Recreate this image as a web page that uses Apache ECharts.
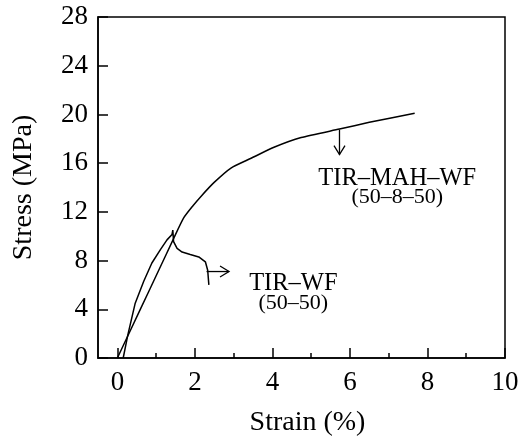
<!DOCTYPE html>
<html>
<head>
<meta charset="utf-8">
<script src="https://cdn.jsdelivr.net/npm/echarts@6/dist/echarts.min.js"></script>
<style>
html,body{margin:0;padding:0;background:#fff;}
#chart{width:519px;height:438px;}
</style>
</head>
<body>
<div id="chart"></div>
<script>
// ---- data ----
const tirWfStrain   = [0.15, 0.27, 0.46, 0.68, 0.89, 1.11, 1.28, 1.41, 1.43, 1.45, 1.54, 1.67, 1.88, 2.10, 2.27, 2.33, 2.36];
const tirWfStress   = [0, 1.9, 4.5, 6.3, 7.8, 8.9, 9.7, 10.15, 10.5, 9.55, 9.0, 8.7, 8.5, 8.3, 7.9, 7.2, 6.0];
const tirMahStrain  = [0, 0.6, 1.0, 1.45, 1.71, 1.95, 2.15, 2.49, 2.93, 3.45, 4.04, 4.74, 5.73, 6.5, 7.67];
const tirMahStress  = [0, 4.05, 6.75, 9.8, 11.5, 12.5, 13.25, 14.4, 15.6, 16.4, 17.3, 18.1, 18.8, 19.35, 20.1];
const xMajorTicks   = [0, 2, 4, 6, 8, 10];
const xMinorTicks   = [1, 3, 5, 7, 9];
const yTicks        = [0, 4, 8, 12, 16, 20, 24, 28];
// annotations (data coordinates)
const arrowStart    = [[5.73, 18.75], [2.30, 7.1]];
const arrowEnd      = [[5.73, 16.7], [2.88, 7.1]];
const labelLine1    = ['TIR–MAH–WF', 'TIR–WF'];
const labelLine2    = ['(50–8–50)', '(50–50)'];
const labelAt       = [[7.22, 13.95], [4.54, 5.3]];

const FONT = 'Liberation Serif';
const zip = (a, b) => a.map((v, i) => [v, b[i]]);

const chart = echarts.init(document.getElementById('chart'), null, {renderer: 'canvas'});
chart.setOption({
  animation: false,
  backgroundColor: '#fff',
  grid: {left: 98, right: 14, top: 17, bottom: 80, containLabel: false, outerBoundsMode: 'none',
         show: true, borderColor: '#000', borderWidth: 1.5, backgroundColor: 'transparent'},
  xAxis: [{
    type: 'value', position: 'bottom', min: -0.5, max: 10,
    name: 'Strain (%)', nameLocation: 'middle', nameGap: 51,
    nameTextStyle: {fontFamily: FONT, fontSize: 28, color: '#000', padding: [0, 0, 0, 12]},
    axisLine: {show: true, onZero: false, lineStyle: {color: '#000', width: 1.5}},
    axisTick: {show: true, inside: true, length: 10, customValues: xMajorTicks, lineStyle: {color: '#000', width: 1.5}},
    axisLabel: {show: true, customValues: xMajorTicks, margin: 11, fontFamily: FONT, fontSize: 27, color: '#000'},
    splitLine: {show: false}
  }, {
    type: 'value', position: 'bottom', min: -0.5, max: 10,
    axisLine: {show: false},
    axisTick: {show: true, inside: true, length: 5, customValues: xMinorTicks, lineStyle: {color: '#000', width: 1.5}},
    axisLabel: {show: false},
    splitLine: {show: false}
  }],
  yAxis: {
    type: 'value', min: 0, max: 28, interval: 4,
    name: 'Stress (MPa)', nameLocation: 'middle', nameGap: 60,
    nameTextStyle: {fontFamily: FONT, fontSize: 28, color: '#000'},
    axisLine: {show: true, onZero: false, lineStyle: {color: '#000', width: 1.5}},
    axisTick: {show: true, inside: true, length: 10, customValues: yTicks, lineStyle: {color: '#000', width: 1.5}},
    axisLabel: {show: true, customValues: yTicks, margin: 10, fontFamily: FONT, fontSize: 27, color: '#000'},
    splitLine: {show: false}
  },
  series: [{
    name: 'TIR-WF (50-50)', type: 'line', xAxisIndex: 0, data: zip(tirWfStrain, tirWfStress),
    showSymbol: false, symbol: 'none', smooth: false,
    lineStyle: {color: '#000', width: 1.5}
  }, {
    name: 'TIR-MAH-WF (50-8-50)', type: 'line', xAxisIndex: 0, data: zip(tirMahStrain, tirMahStress),
    showSymbol: false, symbol: 'none', smooth: 0.2,
    lineStyle: {color: '#000', width: 1.5}
  }, {
    type: 'custom', xAxisIndex: 0, silent: true,
    data: arrowStart.map((s, i) => [s[0], s[1], arrowEnd[i][0], arrowEnd[i][1]]),
    encode: {x: [0, 2], y: [1, 3]},
    renderItem: function (params, api) {
      const p0 = api.coord([api.value(0), api.value(1)]);
      const p1 = api.coord([api.value(2), api.value(3)]);
      const dx = p1[0] - p0[0], dy = p1[1] - p0[1];
      const len = Math.sqrt(dx * dx + dy * dy);
      const ux = dx / len, uy = dy / len;
      const hl = 9, hw = 5.5;
      const b1 = [p1[0] - ux * hl - uy * hw, p1[1] - uy * hl + ux * hw];
      const b2 = [p1[0] - ux * hl + uy * hw, p1[1] - uy * hl - ux * hw];
      return {
        type: 'group',
        children: [
          {type: 'line', shape: {x1: p0[0], y1: p0[1], x2: p1[0], y2: p1[1]}, style: {stroke: '#000', lineWidth: 1.3}},
          {type: 'polyline', shape: {points: [b1, p1, b2]}, style: {stroke: '#000', lineWidth: 1.3, fill: null}}
        ]
      };
    }
  }, {
    type: 'custom', xAxisIndex: 0, silent: true,
    data: labelAt.map((p, i) => [p[0], p[1], i]),
    renderItem: function (params, api) {
      const i = api.value(2);
      const p = api.coord([api.value(0), api.value(1)]);
      return {
        type: 'text', x: p[0], y: p[1],
        style: {
          text: '{a|' + labelLine1[i] + '}\n{b|' + labelLine2[i] + '}',
          align: 'center', verticalAlign: 'middle', fill: '#000',
          rich: {
            a: {fontFamily: FONT, fontSize: 24.5, lineHeight: 19, fill: '#000', align: 'center'},
            b: {fontFamily: FONT, fontSize: 22, lineHeight: 19, fill: '#000', align: 'center'}
          }
        }
      };
    }
  }]
});
</script>
</body>
</html>
